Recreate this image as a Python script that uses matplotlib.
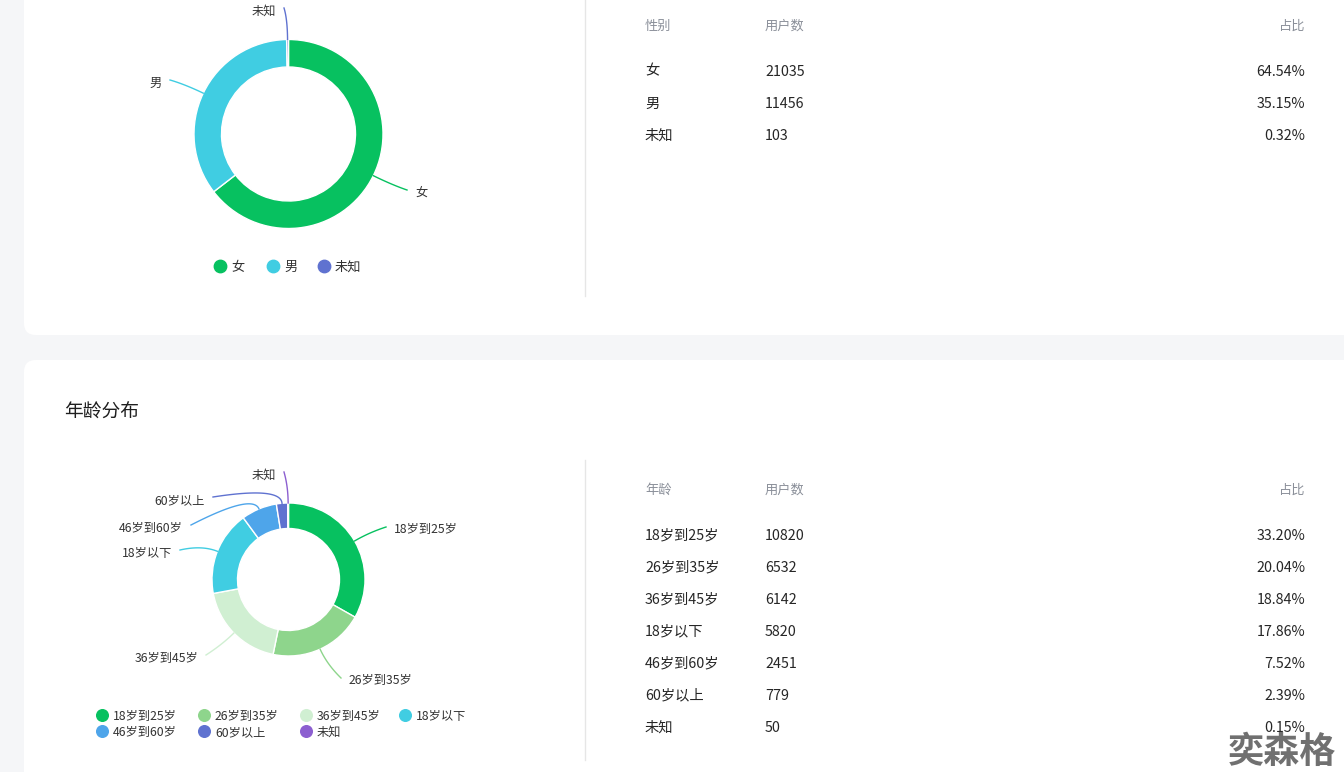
import numpy as np
import matplotlib
matplotlib.use('Agg')
import matplotlib.pyplot as plt
from matplotlib.patches import FancyBboxPatch

plt.rcParams['font.family'] = ['Noto Sans CJK SC', 'DejaVu Sans']

# ---- data ----
gender_labels = ['女', '男', '未知']
gender_counts = [21035, 11456, 103]
gender_colors = ['#07c160', '#40cde2', '#5f72d0']

age_labels = ['18岁到25岁', '26岁到35岁', '36岁到45岁', '18岁以下',
              '46岁到60岁', '60岁以上', '未知']
age_counts = [10820, 6532, 6142, 5820, 2451, 779, 50]
age_colors = ['#07c160', '#8ed58c', '#d0efd2', '#40cde2',
              '#4ea5ea', '#5f72d0', '#8c5fd0']

W, H = 1344, 772
DY = 1.5  # small baseline nudge for the CJK font
fig = plt.figure(figsize=(W / 100, H / 100), dpi=100)
fig.patch.set_facecolor('#f5f6f8')

# main axis in pixel coordinates (y down)
ax = fig.add_axes([0, 0, 1, 1])
ax.set_xlim(0, W)
ax.set_ylim(H, 0)
ax.axis('off')

# white panels
for y0, y1 in [(-40, 335), (360, 812)]:
    ax.add_patch(FancyBboxPatch((24, y0), 1400, y1 - y0,
                                boxstyle='round,pad=0,rounding_size=12',
                                fc='white', ec='none', zorder=1))
ax.plot([584.5, 584.5], [0, 296], color='#e6e6e6', lw=1, zorder=2)
ax.plot([584.5, 584.5], [460, 760], color='#e6e6e6', lw=1, zorder=2)

ax.text(64, 411 + DY, '年龄分布', fontsize=13.5, color='#1f1f1f', va='center', zorder=3)


def donut(cx, cy, r_out, r_in, counts, colors, names, ends):
    pa = fig.add_axes([(cx - r_out) / W, 1 - (cy + r_out) / H,
                       2 * r_out / W, 2 * r_out / H])
    pa.pie(counts, colors=colors, startangle=90, counterclock=False,
           radius=1, wedgeprops=dict(width=1 - r_in / r_out, edgecolor='white', linewidth=1))
    pa.set_xlim(-1, 1)
    pa.set_ylim(-1, 1)
    pa.set_aspect('equal')
    pa.axis('off')
    fr = np.cumsum([0] + list(counts)) / sum(counts)
    for i, (name, col, (ex, ey, side)) in enumerate(zip(names, colors, ends)):
        mid = np.deg2rad(90 - 360 * (fr[i] + fr[i + 1]) / 2)
        p0 = np.array([np.cos(mid), np.sin(mid)]) * 1.0
        p1 = np.array([np.cos(mid), np.sin(mid)]) * 1.22
        p2 = np.array([(ex - cx) / r_out, -(ey - cy) / r_out])
        t = np.linspace(0, 1, 40)[:, None]
        pts = (1 - t) ** 2 * p0 + 2 * (1 - t) * t * p1 + t ** 2 * p2
        pa.plot(pts[:, 0], pts[:, 1], color=col, lw=1, clip_on=False)
        if side == 'left':
            ax.text(ex + 8, ey + 1 + DY, name, fontsize=8.8, color='#333333',
                    ha='left', va='center', zorder=3)
        else:
            ax.text(ex - 8, ey + 2 + DY, name, fontsize=8.8, color='#333333',
                    ha='right', va='center', zorder=3)


donut(288.5, 134, 94.5, 67, gender_counts, gender_colors, gender_labels,
      [(407, 190, 'left'), (170, 80, 'right'), (284, 8, 'right')])
donut(288.5, 579.5, 76.5, 51, age_counts, age_colors, age_labels,
      [(386, 527, 'left'), (341, 678, 'left'), (206, 655, 'right'),
       (180, 550, 'right'), (191, 525, 'right'), (213, 497, 'right'),
       (284, 472, 'right')])

# legends
for x, name, col in zip([220, 273, 324], gender_labels, gender_colors):
    ax.scatter([x], [266], s=80, color=col, zorder=3)
    ax.text(x + 11, 266 + DY, name, fontsize=9.5, color='#333333', va='center', zorder=3)

leg_pos = [(102, 715), (204, 715), (306, 715), (405, 715),
           (102, 731), (204, 731), (306, 731)]
for (x, y), name, col in zip(leg_pos, age_labels, age_colors):
    ax.scatter([x], [y], s=70, color=col, zorder=3)
    ax.text(x + 11, y + DY, name, fontsize=8.8, color='#333333', va='center', zorder=3)


# tables
def table(y_head, y0, head, names, counts):
    total = sum(counts)
    hc = '#8a8f99'
    ax.text(645, y_head + DY, head, fontsize=9.5, color=hc, va='center', zorder=3)
    ax.text(765, y_head + DY, '用户数', fontsize=9.5, color=hc, va='center', zorder=3)
    ax.text(1305, y_head + DY, '占比', fontsize=9.5, color=hc, va='center', ha='right', zorder=3)
    for i, (n, c) in enumerate(zip(names, counts)):
        y = y0 + 32 * i + DY
        ax.text(645, y, n, fontsize=10.3, color='#262626', va='center', zorder=3)
        ax.text(765, y, str(c), fontsize=10.3, color='#262626', va='center', zorder=3)
        ax.text(1305, y, f'{100 * c / total:.2f}%', fontsize=10.3, color='#262626',
                va='center', ha='right', zorder=3)


table(25, 70, '性别', gender_labels, gender_counts)
table(489, 534, '年龄', age_labels, age_counts)

# watermark
ax.text(1228, 752, '奕森格', fontsize=26, fontweight='bold', color='#707070',
        va='center', ha='left', zorder=4)

fig.savefig('out.png', dpi=100, facecolor=fig.get_facecolor())
